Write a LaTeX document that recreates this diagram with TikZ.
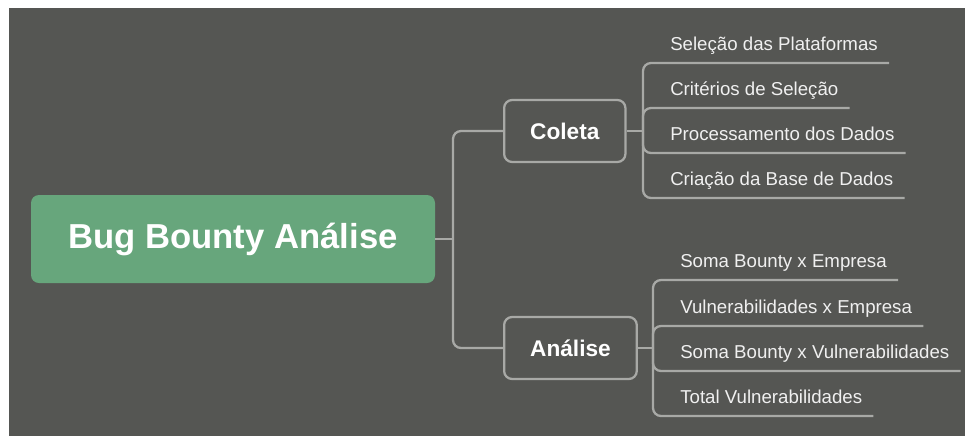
\documentclass[tikz,border=0pt]{standalone}
\usepackage{fontspec}
\setmainfont{Liberation Sans}
\definecolor{bg}{RGB}{85,86,83}
\definecolor{rootgreen}{RGB}{103,166,124}
\definecolor{linegray}{RGB}{168,169,166}
\definecolor{itemtext}{RGB}{240,240,240}

\begin{document}
\begin{tikzpicture}[x=0.75pt,y=-0.75pt,
  link/.style={draw=linegray,line width=1.7pt,rounded corners=6pt},
  topic/.style={draw=linegray,line width=1.7pt,rounded corners=6pt,text=white,font=\fontsize{17}{20}\selectfont\bfseries,inner xsep=19.5pt,minimum height=46.5pt,anchor=west},
  item/.style={text=itemtext,font=\fontsize{14}{16}\selectfont,inner xsep=8.25pt,inner ysep=9pt,text depth=0pt,anchor=south west}]
  \useasboundingbox (0,0) rectangle (965,436);
  \fill[bg] (9,8) rectangle (965,436);
  \path (233,239) node[fill=rootgreen,rounded corners=6pt,minimum width=303pt,minimum height=66pt,text=white,font=\fontsize{26}{30}\selectfont\bfseries] (root) {Bug Bounty Análise}
  (503,131) node[topic] (coleta) {Coleta} (503,348) node[topic] (analise) {Análise};
  \path (453,239) coordinate (jr) (643,131) coordinate (jc) (653,348) coordinate (ja);
  \path (659,63) node[item] (c1) {Seleção das Plataformas} (659,108) node[item] (c2) {Critérios de Seleção}
  (659,153) node[item] (c3) {Processamento dos Dados} (659,198) node[item] (c4) {Criação da Base de Dados};
  \path (669,280) node[item] (a1) {Soma Bounty x Empresa} (669,326) node[item] (a2) {Vulnerabilidades x Empresa}
  (669,371) node[item] (a3) {Soma Bounty x Vulnerabilidades} (669,416) node[item] (a4) {Total Vulnerabilidades};
  \draw[link] (root.east) -- (jr);
  \draw[link] (jr) |- (coleta.west);
  \draw[link] (jr) |- (analise.west);
  \draw[link] (coleta.east) -- (jc);
  \draw[link] (analise.east) -- (ja);
  \foreach \n in {c1,c2,c3,c4} \draw[link] (jc) |- (\n.south east);
  \foreach \n in {a1,a2,a3,a4} \draw[link] (ja) |- (\n.south east);
\end{tikzpicture}
\end{document}
